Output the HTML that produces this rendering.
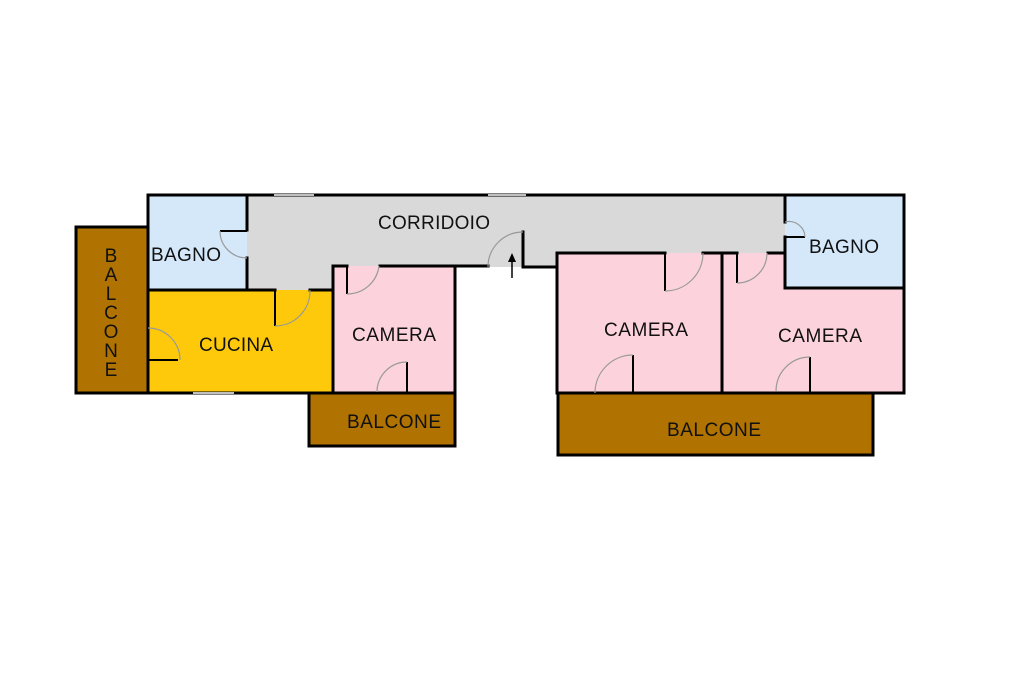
<!DOCTYPE html>
<html><head><meta charset="utf-8"><style>
html,body{margin:0;padding:0;background:#fff;}
svg{display:block}
text{font-family:"Liberation Sans",Arial,sans-serif;font-size:19px;fill:#111}
</style></head><body>
<svg width="1024" height="682" viewBox="0 0 1024 682" xmlns="http://www.w3.org/2000/svg">
<rect width="1024" height="682" fill="#fff"/>
<rect x="76" y="227" width="72" height="166" fill="#b07200"/>
<rect x="148" y="195" width="99" height="95" fill="#d4e8fa"/>
<polygon points="247,195 785,195 785,253 557,253 557,267 523,267 488,267 455,267 333,267 333,290 247,290" fill="#d9d9d9"/>
<rect x="148" y="290" width="185" height="103" fill="#fdc90a"/>
<rect x="333" y="266" width="122" height="127" fill="#fcd3dc"/>
<rect x="309" y="393" width="146" height="53" fill="#b07200"/>
<rect x="557" y="253" width="347" height="140" fill="#fcd3dc"/>
<rect x="785" y="195" width="119" height="93" fill="#d4e8fa"/>
<rect x="558" y="393" width="315" height="62" fill="#b07200"/>
<g stroke="#000" stroke-width="3" fill="none" stroke-linecap="square">
<rect x="76" y="227" width="72" height="166"/>
<line x1="148" y1="195" x2="904" y2="195"/>
<line x1="148" y1="195" x2="148" y2="393"/>
<line x1="904" y1="195" x2="904" y2="393"/>
<line x1="148" y1="393" x2="455" y2="393"/>
<line x1="557" y1="393" x2="904" y2="393"/>
<line x1="247" y1="195" x2="247" y2="230"/>
<line x1="247" y1="258" x2="247" y2="290"/>
<line x1="148" y1="290" x2="247" y2="290"/>
<line x1="247" y1="290" x2="275" y2="290"/>
<line x1="310" y1="290" x2="333" y2="290"/>
<line x1="333" y1="266" x2="333" y2="393"/>
<line x1="333" y1="266" x2="347" y2="266"/>
<line x1="380" y1="266" x2="488" y2="266"/>
<line x1="455" y1="266" x2="455" y2="446"/>
<line x1="523" y1="232" x2="523" y2="267"/>
<line x1="523" y1="267" x2="557" y2="267"/>
<line x1="557" y1="253" x2="557" y2="393"/>
<line x1="557" y1="253" x2="665" y2="253"/>
<line x1="703" y1="253" x2="737" y2="253"/>
<line x1="768" y1="253" x2="785" y2="253"/>
<line x1="722" y1="253" x2="722" y2="393"/>
<line x1="785" y1="195" x2="785" y2="222"/>
<line x1="785" y1="237" x2="785" y2="288"/>
<line x1="785" y1="288" x2="904" y2="288"/>
<rect x="309" y="393" width="146" height="53"/>
<rect x="558" y="393" width="315" height="62"/>
</g>
<g stroke="#fff" stroke-width="1.5">
<line x1="274" y1="195" x2="314" y2="195"/>
<line x1="488" y1="195" x2="526" y2="195"/>
<line x1="193" y1="393" x2="234" y2="393"/>
</g>
<g stroke="#000" stroke-width="2" fill="none">
<line x1="275" y1="290" x2="275" y2="326"/>
<line x1="347" y1="266" x2="347" y2="294"/>
<line x1="407" y1="362" x2="407" y2="393"/>
<line x1="665" y1="253" x2="665" y2="291"/>
<line x1="737" y1="253" x2="737" y2="283"/>
<line x1="633" y1="355" x2="633" y2="393"/>
<line x1="810" y1="357" x2="810" y2="393"/>
<line x1="148" y1="360" x2="178" y2="360"/>
<line x1="220" y1="231" x2="247" y2="231"/>
<line x1="785" y1="237" x2="805" y2="237"/>
</g>
<g stroke="#999" stroke-width="1.2" fill="none">
<path d="M275,326 A35,35 0 0 0 310,290"/>
<path d="M347,294 A32,32 0 0 0 379,266"/>
<path d="M407,362 A30,30 0 0 0 377,392"/>
<path d="M523,232 A35,35 0 0 0 488,267"/>
<path d="M665,291 A38,38 0 0 0 703,253"/>
<path d="M737,283 A30,30 0 0 0 767,253"/>
<path d="M633,355 A38,38 0 0 0 595,393"/>
<path d="M810,357 A34,34 0 0 0 776,391"/>
<path d="M148,328 A32,32 0 0 1 180,360"/>
<path d="M220,231 A27,27 0 0 0 247,258"/>
<path d="M785,222 A16,16 0 0 1 805,237"/>
</g>
<g stroke="#000" stroke-width="1.5" fill="#000">
<line x1="512" y1="278" x2="512" y2="257"/>
<polygon points="512,253 508,262 516,262" stroke="none"/>
</g>
<text x="378" y="229" textLength="112">CORRIDOIO</text>
<text x="151" y="261" textLength="70">BAGNO</text>
<text x="199" y="351" textLength="74">CUCINA</text>
<text x="352" y="341" textLength="84">CAMERA</text>
<text x="347" y="428" textLength="94">BALCONE</text>
<text x="604" y="336" textLength="84">CAMERA</text>
<text x="778" y="342" textLength="84">CAMERA</text>
<text x="809" y="253" textLength="70">BAGNO</text>
<text x="667" y="436" textLength="94">BALCONE</text>
<g text-anchor="middle">
<text x="111" y="262">B</text>
<text x="111" y="281">A</text>
<text x="111" y="300">L</text>
<text x="111" y="319">C</text>
<text x="111" y="338">O</text>
<text x="111" y="357">N</text>
<text x="111" y="376">E</text>
</g>
</svg>
</body></html>
